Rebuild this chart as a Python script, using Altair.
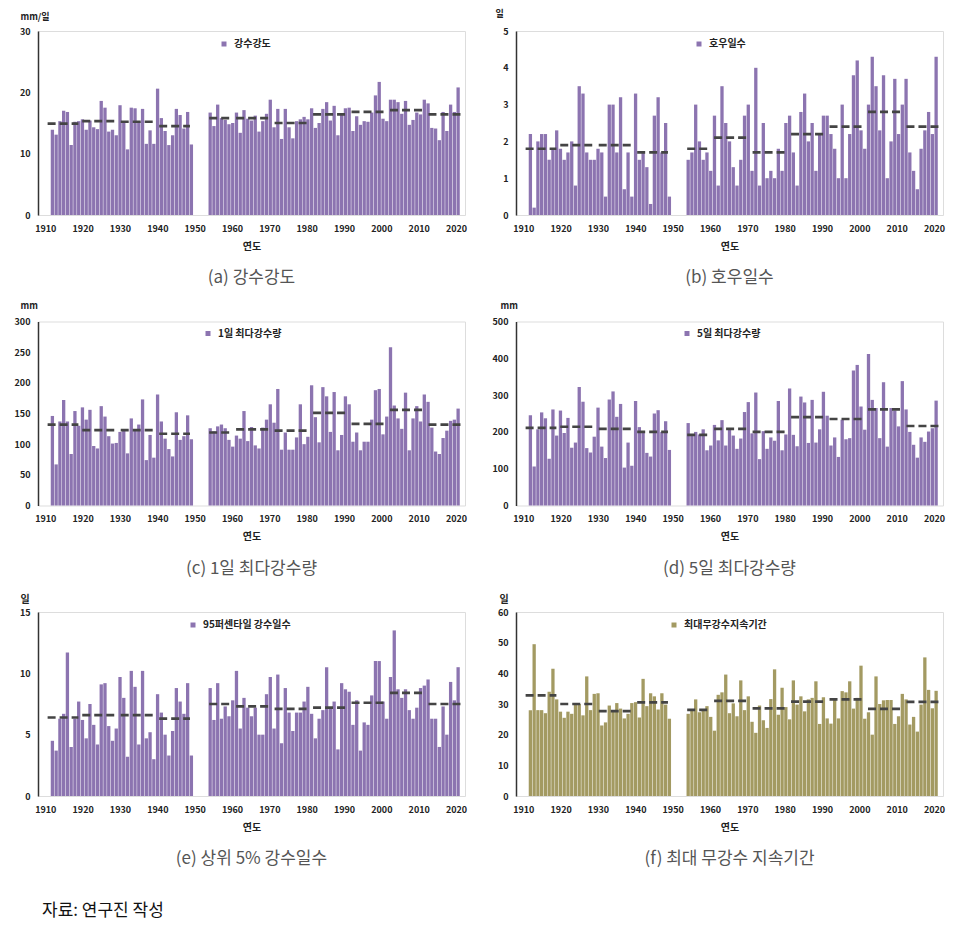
import altair as alt
import pandas as pd

years = list(range(1912, 1950)) + list(range(1954, 2021))

intensity = [13.9, 13.1, 15.3, 17.0, 16.8, 11.4, 15.2, 15.3, 15.6,
             13.9, 15.4, 14.3, 14.0, 18.6, 17.5, 13.6, 13.9, 13.0, 17.9,
             15.0, 10.7, 17.5, 17.4, 15.2, 17.3, 11.6, 13.8, 11.6, 20.6,
             15.8, 13.7, 11.4, 13.0, 17.3, 16.3, 14.1, 16.8, 11.5,
             16.7, 14.5, 18.0, 15.8, 15.5, 14.8, 15.0,
             16.7, 13.4, 17.1, 15.7, 15.4, 16.2, 13.6, 15.3, 16.5, 18.8,
             14.3, 17.3, 12.4, 17.3, 14.3, 12.5, 15.3, 15.6, 16.0, 15.6,
             17.4, 14.2, 15.0, 17.3, 18.4, 15.4, 17.8, 13.0, 16.6, 17.4,
             17.5, 13.7, 16.1, 14.7, 15.3, 15.2, 16.7, 19.5, 21.7, 15.7,
             15.3, 18.8, 18.8, 18.4, 16.5, 18.6, 14.7, 15.5, 16.7, 16.4,
             18.8, 18.2, 14.2, 14.1, 12.2, 16.8, 13.7, 18.0, 16.8, 20.8]

heavy_days = [2.2, 0.2, 2.0, 2.2, 2.2, 1.5, 1.8, 2.3, 1.8,
              1.5, 1.7, 2.0, 0.8, 3.5, 3.3, 1.7, 1.5, 1.5, 1.8,
              1.7, 0.5, 3.0, 3.0, 1.7, 3.2, 0.7, 1.7, 0.5, 3.3,
              1.5, 1.7, 1.3, 0.3, 2.7, 3.2, 1.7, 2.5, 0.5,
              1.5, 1.7, 3.0, 2.0, 1.5, 1.7, 1.2,
              2.7, 0.8, 3.5, 2.5, 2.0, 1.3, 0.8, 1.5, 2.7, 3.0,
              1.2, 4.0, 0.8, 2.5, 1.0, 1.2, 1.0, 1.8, 1.2, 2.5,
              2.7, 1.7, 0.8, 2.8, 3.3, 2.0, 2.5, 1.2, 2.2, 2.7,
              2.7, 2.2, 1.8, 1.0, 3.0, 1.0, 2.2, 3.8, 4.2, 2.3,
              1.8, 3.0, 4.3, 3.5, 2.3, 3.8, 1.0, 2.0, 3.7, 2.2,
              3.0, 3.7, 1.7, 1.2, 0.7, 1.8, 2.3, 2.8, 2.2, 4.3]

max1day = [146, 67, 137, 172, 137, 84, 154, 130, 160,
           140, 156, 97, 93, 162, 145, 113, 101, 102, 120,
           122, 85, 142, 124, 132, 173, 74, 115, 78, 181,
           137, 109, 92, 80, 152, 107, 113, 147, 108,
           126, 121, 129, 132, 126, 107, 96,
           114, 109, 154, 105, 128, 98, 93, 127, 140, 165,
           135, 190, 91, 119, 91, 91, 111, 165, 100, 112,
           196, 144, 103, 193, 178, 120, 185, 90, 115, 178,
           165, 104, 119, 90, 104, 104, 140, 188, 190, 116,
           145, 258, 163, 142, 125, 184, 90, 142, 162, 137,
           181, 169, 127, 88, 84, 110, 122, 138, 140, 158]

max5day = [245, 106, 207, 253, 237, 127, 261, 190, 258,
           197, 238, 157, 171, 322, 282, 156, 144, 187, 266,
           160, 129, 288, 310, 241, 276, 103, 171, 108, 284,
           213, 200, 143, 133, 250, 259, 200, 229, 151,
           224, 193, 200, 193, 207, 150, 163,
           219, 177, 232, 163, 207, 190, 154, 182, 254, 281,
           196, 307, 126, 202, 154, 185, 176, 284, 150, 193,
           318, 192, 161, 296, 280, 170, 287, 171, 207, 309,
           244, 163, 185, 132, 233, 180, 183, 367, 382, 269,
           206, 412, 287, 265, 183, 335, 160, 265, 258, 215,
           338, 261, 200, 165, 130, 185, 173, 201, 210, 285]

p95_days = [4.5, 3.7, 6.3, 6.7, 11.7, 4.0, 6.3, 7.7, 6.2,
            4.7, 7.5, 5.8, 4.2, 9.1, 9.2, 5.7, 4.5, 5.5, 9.7,
            8.0, 3.2, 10.2, 8.9, 4.2, 10.2, 4.7, 5.2, 3.0, 8.3,
            6.8, 5.0, 3.3, 5.3, 8.8, 7.7, 6.7, 9.2, 3.3,
            8.8, 6.2, 9.2, 6.3, 7.3, 6.5, 7.8,
            10.2, 5.5, 8.0, 7.2, 6.5, 7.2, 5.0, 5.0, 8.3, 9.7,
            5.5, 9.9, 4.3, 8.8, 6.8, 5.3, 6.8, 6.8, 7.7, 8.9,
            6.7, 4.7, 6.3, 7.0, 10.5, 7.2, 7.7, 3.8, 9.2, 8.7,
            8.5, 5.8, 7.8, 3.7, 6.0, 5.8, 8.2, 11.0, 11.0, 7.7,
            6.3, 9.7, 13.5, 8.7, 8.0, 8.7, 7.0, 6.3, 7.2, 8.8,
            9.0, 9.5, 6.3, 6.3, 4.0, 7.3, 5.0, 9.3, 7.8, 10.5]

dry_spell = [28, 49.5, 28, 28, 27, 34, 41.5, 31.5, 27.5,
             25.5, 27.5, 26.8, 30, 30, 26.3, 39, 28, 33.3, 33.5,
             23, 24, 29.5, 27.5, 30.3, 28.5, 25.3, 26.8, 30.3, 30.6,
             25.6, 38.2, 29.3, 33.5, 32.5, 28.2, 33.5, 29.8, 25.2,
             26.8, 27.8, 31.5, 27.3, 27.8, 29.3, 25.8,
             21.3, 33, 33.8, 39.6, 27, 30.2, 26, 37.7, 28, 32.5,
             24.2, 20.6, 29.5, 24.7, 22.2, 31.6, 41.3, 26.5, 35.3, 29,
             25, 37.7, 29.8, 32.5, 27.6, 31.5, 32, 37.4, 23.5, 32.2,
             25.3, 23.6, 31.5, 25.3, 34.2, 33.8, 37.4, 28.5, 32, 42.5,
             25.2, 27.3, 20, 39, 30, 31.2, 31.3, 31.3, 23.5, 26,
             33.3, 31.5, 23.3, 25.8, 21, 29.8, 45.2, 34.6, 28.6, 34.3]

decade_start = [1912, 1921, 1931, 1941, 1954, 1961, 1971, 1981, 1991, 2001, 2011]
decade_end = [1920, 1930, 1940, 1949, 1960, 1970, 1980, 1990, 2000, 2010, 2020]

mean_intensity = [14.9, 15.3, 15.2, 14.5, 15.8, 15.8, 15.0, 16.4, 16.8, 17.1, 16.4]
mean_heavy = [1.8, 1.9, 1.9, 1.7, 1.8, 2.1, 1.7, 2.2, 2.4, 2.8, 2.4]
mean_1day = [132, 123, 123, 117, 119, 124, 122, 151, 133, 156, 132]
mean_5day = [211, 214, 208, 200, 192, 208, 200, 240, 235, 261, 216]
mean_p95 = [6.4, 6.6, 6.6, 6.3, 7.5, 7.3, 7.1, 7.2, 7.6, 8.4, 7.5]
mean_dry = [32.8, 30.0, 27.7, 30.5, 28.1, 31.0, 28.6, 30.8, 31.5, 28.4, 30.7]

label_years = list(range(1910, 2021, 10))

FONT = "Noto Sans CJK KR"
PURPLE = "#8C74B0"
OLIVE = "#A39A62"
W, H = 427, 184


def panel(values, means, unit, ticks, ymax, color, name, caption, lx, ly, ux, uy, usize=9):
    df = pd.DataFrame({"year": years, "value": values, "series": name})
    mdf = pd.DataFrame({"start": decade_start, "end": decade_end, "value": means})
    ldf = pd.DataFrame({"label": label_years})
    xs = alt.Scale(domain=[1909.5, 2020.5], nice=False, zero=False)
    ys = alt.Scale(domain=[0, ymax], nice=False)
    yaxis = alt.Axis(values=ticks, title=unit, titleAngle=0, titleX=ux, titleY=uy,
                     titleAlign="left", titleBaseline="middle", titleFontSize=usize,
                     titleFont=FONT, titleFontWeight="bold", titleColor="#222",
                     ticks=False, labelPadding=8, grid=False, labelFontSize=9,
                     labelFont=FONT, labelFontWeight="bold", labelColor="#222",
                     labelOverlap=False, domainColor="#333", domainWidth=1.5)
    bars = alt.Chart(df).mark_bar(width=3.3, orient="vertical").encode(
        x=alt.X("year:Q", scale=xs, axis=None),
        y=alt.Y("value:Q", scale=ys, axis=yaxis),
        color=alt.Color("series:N", scale=alt.Scale(domain=[name], range=[color]),
                        legend=alt.Legend(orient="none", legendX=lx, legendY=ly, title=None,
                                          symbolType="square", symbolSize=25, symbolStrokeWidth=0,
                                          labelFontSize=10, labelFont=FONT, labelFontWeight="bold",
                                          labelColor="#222", padding=0, labelOffset=5)),
    )
    rules = alt.Chart(mdf).mark_rule(strokeDash=[8, 4], strokeWidth=2.7, color="#444444").encode(
        x=alt.X("start:Q", scale=xs, axis=None),
        x2="end:Q",
        y=alt.Y("value:Q", scale=ys, axis=yaxis),
    )
    ax = alt.Chart(ldf).mark_point(opacity=0).encode(
        x=alt.X("label:Q", scale=alt.Scale(domain=[1908.04, 2022.4], nice=False, zero=False),
                axis=alt.Axis(values=label_years, format="d", orient="bottom", title="연도",
                              ticks=False, labelPadding=9, grid=False, labelFontSize=9,
                              labelFont=FONT, labelFontWeight="bold", labelColor="#222",
                              titleFont=FONT, titleFontWeight="bold", titleFontSize=10,
                              titleColor="#222", titlePadding=8, domain=False, labelFlush=False,
                              labelOverlap=False)),
    )
    return alt.layer(bars, rules, ax).resolve_scale(x="independent").properties(
        width=W, height=H,
        title=alt.TitleParams(caption, orient="bottom", offset=19, font=FONT, fontSize=17,
                              fontWeight="normal", color="#555"))


a = panel(intensity, mean_intensity, "mm/일", [0, 10, 20, 30], 30, PURPLE, "강수강도",
          "(a) 강수강도", 181, 8, -18, -15)
b = panel(heavy_days, mean_heavy, "일", [0, 1, 2, 3, 4, 5], 5, PURPLE, "호우일수",
          "(b) 호우일수", 178, 8, -21, -18)
c = panel(max1day, mean_1day, "mm", [0, 50, 100, 150, 200, 250, 300], 300, PURPLE, "1일 최다강수량",
          "(c) 1일 최다강수량", 165, 7, -18, -16)
d = panel(max5day, mean_5day, "mm", [0, 100, 200, 300, 400, 500], 500, PURPLE, "5일 최다강수량",
          "(d) 5일 최다강수량", 166, 7, -16, -16)
e = panel(p95_days, mean_p95, "일", [0, 5, 10, 15], 15, PURPLE, "95퍼센타일 강수일수",
          "(e) 상위 5% 강수일수", 150, 8, -18, -13, 10)
f = panel(dry_spell, mean_dry, "일", [0, 10, 20, 30, 40, 50, 60], 60, OLIVE, "최대무강수지속기간",
          "(f) 최대 무강수 지속기간", 153, 8, -17, -13, 10)

chart = alt.concat(a, b, c, d, e, f, columns=2).properties(
    spacing={"row": 106.5, "column": 51},
    bounds="flush",
    padding={"left": 5, "top": 0, "right": 5, "bottom": 5},
    title=alt.TitleParams("자료: 연구진 작성", orient="bottom", anchor="start", frame="group",
                          offset=35, dx=4, font=FONT, fontSize=17, fontWeight="normal",
                          color="#111"),
).resolve_scale(color="independent").resolve_legend(color="independent").configure_view(
    stroke="#777", strokeWidth=1.5).configure(background="white")

chart.save("out.html", embed_options={"renderer": "svg", "actions": False})
